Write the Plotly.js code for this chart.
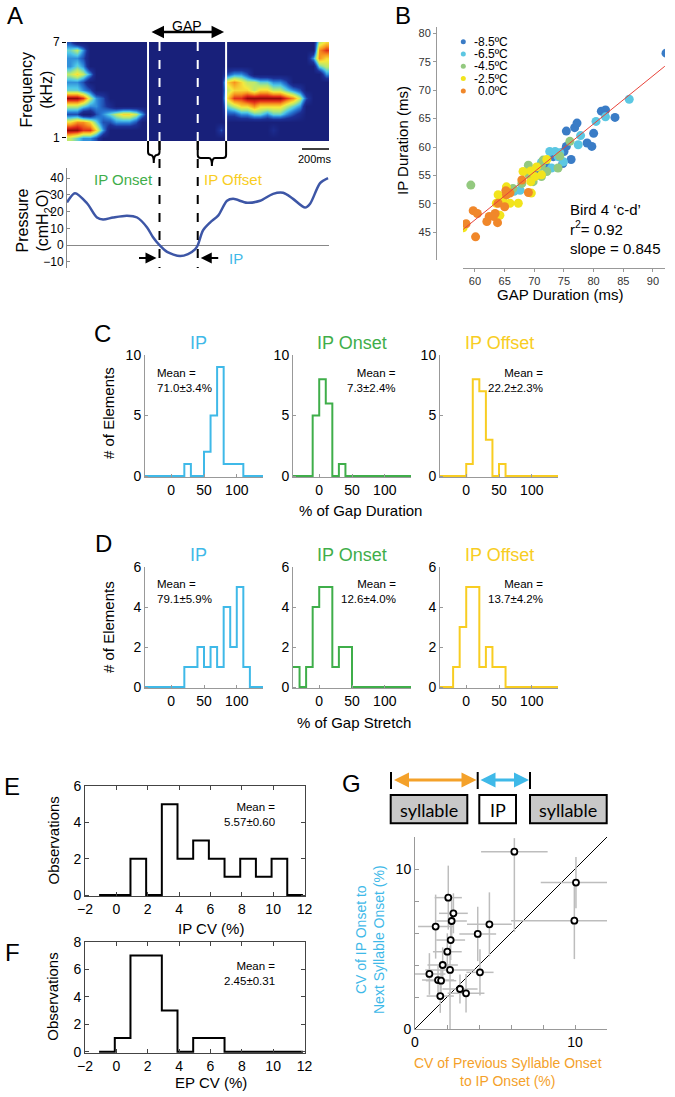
<!DOCTYPE html>
<html>
<head>
<meta charset="utf-8">
<script src="https://cdn.plot.ly/plotly-3.0.1.min.js"></script>
<style>
html, body { margin: 0; padding: 0; background: #fff; }
#fig { width: 675px; height: 1097px; }
</style>
</head>
<body>
<div id="fig"></div>
<script>
var W = 675, H = 1097;
var FONT = '"Liberation Sans", Arial, Helvetica, sans-serif';
var CYAN = '#3fb9e8', GREEN = '#3fae4a', YELLOW = '#f8cd22', ORANGE = '#f4a12a';

// ---------- A: spectrogram (0.5 kHz rows, 40 time bins) and pressure ----------
var specFreq = [1.0, 1.5, 2.0, 2.5, 3.0, 3.5, 4.0, 4.5, 5.0, 5.5, 6.0, 6.5, 7.0];
var specRows = [
    '5433200000' + '0000000000' + '0000000000' + '0000000000',
    '9988630000' + '0000000000' + '0002000000' + '0100000000',
    '6776422333' + '2000000000' + '0000000000' + '0000000000',
    '2200234566' + '5300000000' + '0000223344' + '3443210000',
    '5543321000' + '0000000000' + '0000456676' + '6665430000',
    '9985320000' + '0000000000' + '0000688999' + '9998752000',
    '4432000000' + '0000000000' + '0000566656' + '6554320000',
    '3320000000' + '0000000000' + '0000676554' + '4332000000',
    '5653000000' + '0000000000' + '0000233200' + '0000000003',
    '3430000000' + '0000000000' + '0000000000' + '0000000045',
    '3320000000' + '0000000000' + '0000000000' + '0000000376',
    '4530000000' + '0000000000' + '0000000000' + '0000000078',
    '2000000000' + '0000000000' + '0000000000' + '0000000056'
];
var specSpanMs = 1940;
var pressT = [0, 59, 148, 222, 267, 341, 444, 519, 593, 637, 685, 741, 837, 896, 948, 968, 1007, 1059, 1119, 1185, 1230, 1333, 1430, 1526, 1600, 1674, 1763, 1800, 1874, 1933];
var pressV = [25.5, 31, 25, 16.5, 15.3, 16.5, 17.6, 16.5, 10.6, 4.7, 0, -4, -6.5, -5.3, -2.5, 0, 8.8, 13.5, 17.6, 26.5, 27.6, 25.3, 26.5, 30.6, 31.2, 27.6, 22.4, 24.7, 37, 40];
var gapStartMs = 600, ipStartMs = 685, ipEndMs = 968, gapEndMs = 1178;
var scaleBarMs = 200;

// ---------- B: IP vs GAP duration by temperature ----------
var tempLabels = ['-8.5ºC', '-6.5ºC', '-4.5ºC', '-2.5ºC', '0.0ºC'];
var tempColors = ['#3a7cc6', '#5cc7e2', '#93c97f', '#f2e41c', '#f0872a'];
var blueX = [92.2, 81.3, 82.0, 83.6, 76.8, 77.2, 75.4, 80.0, 78.9, 79.7, 75.4, 75.0, 76.2, 74.8, 73.2, 72.1, 70.4];
var blueY = [76.5, 66.3, 66.5, 65.2, 63.4, 64.2, 62.8, 62.4, 60.7, 60.1, 60.1, 59.2, 57.8, 57.1, 58.3, 56.5, 55.4];
var cyanX = [86.0, 80.4, 82.0, 77.8, 77.4, 72.6, 73.5, 74.3, 71.2, 72.9, 70.9, 67.6, 66.6, 74.0, 74.9];
var cyanY = [68.4, 64.5, 65.3, 62.0, 60.4, 59.2, 59.2, 59.0, 57.3, 56.3, 56.5, 52.4, 52.2, 58.3, 57.4];
var greenX = [59.3, 76.0, 74.3, 74.0, 69.0, 71.2, 67.9, 69.8, 71.2, 66.4, 69.1, 71.5, 72.1];
var greenY = [53.3, 61.0, 58.4, 56.3, 56.8, 56.8, 53.6, 53.9, 54.8, 52.7, 55.1, 57.7, 55.7];
var yellowX = [58.0, 72.1, 71.2, 69.4, 68.1, 70.1, 69.5, 69.4, 67.3, 63.9, 64.7, 65.9, 64.2, 65.3, 63.6, 70.4];
var yellowY = [45.8, 57.8, 55.1, 55.8, 55.7, 54.8, 51.9, 53.9, 50.1, 51.6, 50.7, 50.1, 48.0, 53.0, 50.1, 56.5];
var orangeX = [58.5, 59.7, 60.4, 60.1, 62.0, 62.4, 63.4, 63.8, 63.9, 65.2, 65.3, 65.9, 65.0, 67.9, 69.0, 63.1];
var orangeY = [46.5, 48.8, 48.3, 44.2, 46.9, 47.8, 48.3, 46.7, 50.1, 52.3, 51.6, 51.9, 49.5, 54.2, 52.0, 47.8];
var fitX = [58, 92];
var fitY = [45.5, 74.2];

// ---------- C, D: histograms, bins of 10 % from -40 to 140 ----------
var histEdges = [-40, -30, -20, -10, 0, 10, 20, 30, 40, 50, 60, 70, 80, 90, 100, 110, 120, 130, 140];
var durIP     = [0, 0, 0, 0, 0, 0, 1, 0, 0, 2, 5, 9, 1, 1, 1, 0, 0, 0];
var durOnset  = [0, 0, 0, 5, 8, 6, 0, 1, 0, 0, 0, 0, 0, 0, 0, 0, 0, 0];
var durOffset = [0, 0, 0, 0, 1, 8, 7, 3, 0, 1, 0, 0, 0, 0, 0, 0, 0, 0];
var strIP     = [0, 0, 0, 0, 0, 0, 1, 1, 2, 1, 2, 1, 4, 2, 5, 1, 0, 0];
var strOnset  = [1, 0, 1, 4, 5, 5, 1, 2, 2, 0, 0, 0, 0, 0, 0, 0, 0, 0];
var strOffset = [0, 0, 1, 3, 5, 5, 1, 2, 1, 1, 0, 0, 0, 0, 0, 0, 0, 0];
var histTitles = ['IP', 'IP Onset', 'IP Offset'];
var durMeans = ['71.0±3.4%', '7.3±2.4%', '22.2±2.3%'];
var strMeans = ['79.1±5.9%', '12.6±4.0%', '13.7±4.2%'];

// ---------- E, F: CV histograms ----------
var cvEdges = [-1.1, -0.1, 0.9, 1.9, 2.9, 3.9, 4.9, 5.9, 6.9, 7.9, 8.9, 9.9, 10.9, 11.9];
var ipCV = [0, 0, 2, 0, 5, 2, 3, 2, 1, 2, 1, 2, 0];
var epCV = [0, 1, 7, 7, 3, 0, 1, 1, 0, 0, 0, 0, 0];

// ---------- G: CV scatter with error bars ----------
var gX = [6.21, 10.06, 9.96, 4.65, 3.92, 4.06, 3.19, 2.81, 2.08, 2.40, 2.29, 1.29, 2.23, 2.02, 1.73, 2.19, 0.90, 1.44, 1.63, 1.58];
var gY = [11.08, 9.15, 6.77, 6.54, 5.94, 3.54, 2.23, 2.50, 8.21, 7.23, 6.75, 6.40, 5.56, 4.83, 4.00, 3.69, 3.44, 3.06, 3.02, 2.06];
var gXErr = [2.08, 2.2, 3.96, 1.4, 1.15, 0.85, 1.15, 1.1, 0.85, 0.9, 0.95, 1.1, 0.9, 0.9, 0.95, 1.55, 1.0, 1.0, 0.95, 0.85];
var gYErrUp = [0.85, 1.6, 2.4, 2.0, 1.7, 1.45, 1.2, 0.9, 2.0, 1.25, 1.3, 2.0, 1.25, 1.15, 1.1, 1.5, 1.3, 0.9, 0.9, 1.05];
var gYErrDown = [5.0, 1.6, 2.4, 2.0, 1.7, 1.45, 1.2, 0.9, 2.0, 1.25, 1.3, 2.0, 1.25, 1.15, 1.1, 3.7, 1.3, 0.9, 0.9, 1.05];

// ---------- helpers (pixel -> paper) ----------
function px(x) { return x / W; }
function py(y) { return 1 - y / H; }
function xd(a, b) { return [a / W, b / W]; }
function yd(top, bottom) { return [1 - bottom / H, 1 - top / H]; }
function tpx(t) { return 67 + t * (329 - 67) / specSpanMs; }

function note(x, y, text, o) {
    o = o || {};
    return {
        xref: 'paper', yref: 'paper', x: px(x), y: py(y), text: text, showarrow: false,
        xanchor: o.xa || 'center', yanchor: 'middle', align: o.align || 'center',
        textangle: o.rot || 0,
        font: { family: o.family || FONT, size: o.size || 12, color: o.color || '#000' }
    };
}
function arrow(xTip, y, dx, color, width, both) {
    return {
        xref: 'paper', yref: 'paper', x: px(xTip), y: py(y), ax: dx, ay: 0, text: '',
        showarrow: true, arrowhead: 2, arrowsize: 1, arrowwidth: width, arrowcolor: color,
        arrowside: both ? 'end+start' : 'end', standoff: 0, startstandoff: 0
    };
}
function seg(x0, y0, x1, y1, color, width, dash) {
    return { type: 'line', xref: 'paper', yref: 'paper', x0: px(x0), y0: py(y0), x1: px(x1), y1: py(y1),
             line: { color: color, width: width, dash: dash || 'solid' } };
}
function brace(x0, x1, yTop, yBot, yTip) {
    var r = 3, xm = (x0 + x1) / 2;
    var P = function (x, y) { return px(x) + ',' + py(y); };
    var d = 'M' + P(x0, yTop) + ' L' + P(x0, yBot - r) + ' Q' + P(x0, yBot) + ' ' + P(x0 + r, yBot) +
            ' L' + P(xm - r, yBot) + ' Q' + P(xm, yBot) + ' ' + P(xm, yTip) +
            ' Q' + P(xm, yBot) + ' ' + P(xm + r, yBot) + ' L' + P(x1 - r, yBot) +
            ' Q' + P(x1, yBot) + ' ' + P(x1, yBot - r) + ' L' + P(x1, yTop);
    return { type: 'path', xref: 'paper', yref: 'paper', path: d, line: { color: '#000', width: 2 } };
}
function ax(o) {
    return Object.assign({ showgrid: false, zeroline: false, showline: false, ticks: '', showticklabels: false, fixedrange: true }, o);
}
function stepTrace(edges, counts, color, xa, ya) {
    return { type: 'scatter', mode: 'lines', x: edges, y: counts.concat([counts[counts.length - 1]]),
             line: { shape: 'hv', color: color, width: 2 }, xaxis: xa, yaxis: ya, hoverinfo: 'skip' };
}

var data = [];
var layout = {
    width: W, height: H, margin: { l: 0, r: 0, t: 0, b: 0 },
    paper_bgcolor: '#fff', plot_bgcolor: '#fff', showlegend: false,
    font: { family: FONT, size: 12, color: '#000' },
    shapes: [], annotations: []
};
var S = layout.shapes, A = layout.annotations;

// ---------- panel A ----------
var NAVY = 'rgb(24,32,122)';
var specZ = specRows.map(function (r) { return r.split('').map(Number); });
var specT = specZ[0].map(function (_, i) { return (i + 0.5) * specSpanMs / specZ[0].length; });
data.push({
    type: 'heatmap', x: specT, y: specFreq, z: specZ, zmin: 0, zmax: 9, zsmooth: 'best', showscale: false,
    colorscale: [[0, NAVY], [0.16, 'rgb(28,48,150)'], [0.3, 'rgb(38,120,212)'], [0.41, 'rgb(78,200,232)'],
                 [0.53, 'rgb(175,232,120)'], [0.64, 'rgb(245,232,60)'], [0.77, 'rgb(248,150,30)'], [0.9, 'rgb(222,40,25)'], [1, 'rgb(150,10,10)']],
    xaxis: 'x', yaxis: 'y', hoverinfo: 'skip'
});
layout.xaxis = ax({ domain: xd(67, 329), range: [0, specSpanMs], anchor: 'y' });
layout.yaxis = ax({ domain: yd(42, 141), range: [0.81, 7], anchor: 'x', tickvals: [1, 7], showticklabels: true,
                    ticks: 'outside', ticklen: 4, tickcolor: '#000', tickfont: { size: 12 } });
S.push({ type: 'rect', xref: 'x', yref: 'y', x0: 0, x1: specSpanMs, y0: 0.81, y1: 7, layer: 'below',
         fillcolor: NAVY, line: { width: 0 } });

data.push({ type: 'scatter', mode: 'lines', x: pressT, y: pressV, line: { color: '#3d56a6', width: 2.5, shape: 'spline', smoothing: 0.8 },
            xaxis: 'x2', yaxis: 'y2', hoverinfo: 'skip' });
layout.xaxis2 = ax({ domain: xd(67, 329), range: [0, specSpanMs], anchor: 'y2' });
layout.yaxis2 = ax({ domain: yd(168, 268), range: [-13.6, 46], anchor: 'x2', showline: true, linecolor: '#888', linewidth: 1,
                     tickvals: [-10, 0, 10, 20, 30, 40], showticklabels: true, ticks: 'inside', ticklen: 3, tickcolor: '#888',
                     zeroline: true, zerolinecolor: '#888', zerolinewidth: 1, tickfont: { size: 12 } });

[gapStartMs, gapEndMs].forEach(function (t) { S.push(seg(tpx(t), 42, tpx(t), 141, '#fff', 2)); });
[ipStartMs, ipEndMs].forEach(function (t) {
    S.push(seg(tpx(t), 42, tpx(t), 141, '#fff', 2, 'dash'));
    S.push(seg(tpx(t), 141, tpx(t), 268, '#000', 2, 'dash'));
});
S.push(brace(tpx(gapStartMs), tpx(ipStartMs), 141, 155, 163));
S.push(brace(tpx(ipEndMs), tpx(gapEndMs), 141, 158, 166));
S.push(seg(tpx(specSpanMs - scaleBarMs), 149, tpx(specSpanMs), 149, '#000', 1.5));
A.push(note((tpx(specSpanMs - scaleBarMs) + tpx(specSpanMs)) / 2, 159, scaleBarMs + 'ms', { size: 11 }));
A.push(arrow(tpx(gapEndMs) - 2, 32, -(tpx(gapEndMs) - tpx(gapStartMs) - 4), '#000', 2.5, true));
A.push(note((tpx(gapStartMs) + tpx(gapEndMs)) / 2, 26, 'GAP', { size: 14 }));
A.push(note(155, 179, 'IP Onset', { xa: 'right', size: 15, color: GREEN }));
A.push(note(201.5, 179, 'IP Offset', { xa: 'left', size: 15, color: YELLOW }));
A.push(arrow(tpx(ipStartMs) - 3, 258, -19, '#000', 2.2));
A.push(arrow(tpx(ipEndMs) + 3, 258, 19, '#000', 2.2));
A.push(note(227, 258, 'IP', { xa: 'left', size: 15, color: CYAN }));
A.push(note(36.5, 90, 'Frequency<br>(kHz)', { rot: -90, size: 16 }));
A.push(note(33.5, 221, 'Pressure<br>(cmH<sub>2</sub>O)', { rot: -90, size: 16 }));

// ---------- panel B ----------
var bSets = [[blueX, blueY], [cyanX, cyanY], [greenX, greenY], [yellowX, yellowY], [orangeX, orangeY]];
bSets.forEach(function (s, i) {
    data.push({ type: 'scatter', mode: 'markers', x: s[0], y: s[1], name: tempLabels[i],
                marker: { color: tempColors[i], size: 9 }, xaxis: 'x3', yaxis: 'y3', hoverinfo: 'skip' });
});
data.push({ type: 'scatter', mode: 'lines', x: fitX, y: fitY, line: { color: '#e8443a', width: 1 }, xaxis: 'x3', yaxis: 'y3', hoverinfo: 'skip' });
layout.xaxis3 = ax({ domain: xd(463, 665), range: [57.98, 92.03], anchor: 'free', position: py(268), showline: true, linecolor: '#999',
                     tickvals: [60, 65, 70, 75, 80, 85, 90], showticklabels: true, ticks: 'outside', ticklen: 3, tickcolor: '#999',
                     tickfont: { size: 11, color: '#333' } });
layout.yaxis3 = ax({ domain: yd(27, 260), range: [40.13, 81.1], anchor: 'free', position: px(436), showline: true, linecolor: '#999',
                     tickvals: [45, 50, 55, 60, 65, 70, 75, 80], showticklabels: true, ticks: 'outside', ticklen: 3, tickcolor: '#999',
                     tickfont: { size: 11, color: '#333' } });
tempLabels.forEach(function (lab, i) {
    var y = 41.7 + i * 12.3;
    S.push({ type: 'circle', xref: 'paper', yref: 'paper', x0: px(460.8), x1: px(465.8), y0: py(y + 2.5), y1: py(y - 2.5),
             fillcolor: tempColors[i], line: { width: 0 } });
    A.push(note(lab.charAt(0) === '-' ? 471.7 : 475.7, y, lab, { xa: 'left', size: 12 }));
});
A.push(note(568, 229, 'Bird 4 ‘c-d’<br>r<sup>2</sup>= 0.92<br>slope = 0.845', { xa: 'left', align: 'left', size: 15 }));
A.push(note(403, 141, 'IP Duration (ms)', { rot: -90, size: 15 }));
A.push(note(560, 295, 'GAP Duration (ms)', { size: 15 }));

// ---------- panels C, D ----------
var colLeft = [145, 293, 440];
var colColor = [CYAN, GREEN, YELLOW];
var durSets = [durIP, durOnset, durOffset];
var strSets = [strIP, strOnset, strOffset];
function histRow(sets, means, firstAxis, top, bottom, ymax, yticks, titleY, meanY) {
    var unit = (bottom - top) / ymax;
    for (var k = 0; k < 3; k++) {
        var n = firstAxis + k;
        data.push(stepTrace(histEdges, sets[k], colColor[k], 'x' + n, 'y' + n));
        layout['xaxis' + n] = ax({ domain: xd(colLeft[k], colLeft[k] + 118), range: [-40, 140], anchor: 'y' + n,
            showline: true, linecolor: '#999', tickvals: [0, 50, 100], showticklabels: true, ticks: 'inside', ticklen: 3,
            tickcolor: '#999', tickfont: { size: 14 } });
        layout['yaxis' + n] = ax({ domain: yd(top, bottom + 1.2), range: [-1.2 / unit, ymax], anchor: 'x' + n,
            showline: true, linecolor: '#999', tickvals: yticks, showticklabels: true, ticks: 'inside', ticklen: 3,
            tickcolor: '#999', tickfont: { size: 14 } });
        A.push(note(colLeft[k] + 59 - (k === 0 ? 6 : 0), titleY, histTitles[k], { size: 18, color: colColor[k] }));
        if (k === 0) {
            A.push(note(colLeft[k] + 10, meanY, 'Mean =<br>' + means[k], { xa: 'left', align: 'left', size: 11.5 }));
        } else {
            A.push(note(colLeft[k] + 105, meanY, 'Mean =<br>' + means[k], { xa: 'right', align: 'right', size: 11.5 }));
        }
    }
}
histRow(durSets, durMeans, 4, 355, 476, 10, [0, 5, 10], 343, 380);
histRow(strSets, strMeans, 7, 567, 687, 6, [0, 2, 4, 6], 555, 591);
A.push(note(108, 413, '# of Elements', { rot: -90, size: 15 }));
A.push(note(108, 627, '# of Elements', { rot: -90, size: 15 }));
A.push(note(360, 511, '% of Gap Duration', { size: 15 }));
A.push(note(354, 722, '% of Gap Stretch', { size: 15 }));

// ---------- panels E, F ----------
function cvPanel(n, counts, top, bottom, ymax, yticks, title, titleY, mean, meanY) {
    var unit = (bottom - top) / ymax;
    data.push(stepTrace(cvEdges, counts, '#000', 'x' + n, 'y' + n));
    layout['xaxis' + n] = ax({ domain: xd(85, 304.5), range: [-2, 12], anchor: 'y' + n, showline: true, mirror: 'ticks',
        linecolor: '#444', tickvals: [-2, 0, 2, 4, 6, 8, 10, 12], showticklabels: true, ticks: 'inside', ticklen: 4,
        tickcolor: '#444', tickfont: { size: 14 } });
    layout['yaxis' + n] = ax({ domain: yd(top, bottom + 1.2), range: [-1.2 / unit, ymax], anchor: 'x' + n, showline: true, mirror: 'ticks',
        linecolor: '#444', tickvals: yticks, showticklabels: true, ticks: 'inside', ticklen: 4, tickcolor: '#444',
        tickfont: { size: 14 } });
    A.push(note(53, (top + bottom) / 2, 'Observations', { rot: -90, size: 15 }));
    A.push(note(211, titleY, title, { size: 15 }));
    A.push(note(277, meanY, 'Mean =<br>' + mean, { xa: 'right', align: 'right', size: 11.5 }));
}
cvPanel(10, ipCV, 786, 895, 6, [0, 2, 4, 6], 'IP CV (%)', 928, '5.57±0.60', 814);
cvPanel(11, epCV, 941.7, 1051.7, 8, [0, 2, 4, 6, 8], 'EP CV (%)', 1082, '2.45±0.31', 973);

// ---------- panel G ----------
data.push({ type: 'scatter', mode: 'lines', x: [0, 12], y: [0, 12], line: { color: '#000', width: 1 }, xaxis: 'x12', yaxis: 'y12', hoverinfo: 'skip' });
data.push({ type: 'scatter', mode: 'markers', x: gX, y: gY, xaxis: 'x12', yaxis: 'y12', hoverinfo: 'skip',
    marker: { symbol: 'circle', size: 6, color: '#fff', line: { color: '#000', width: 1.8 } },
    error_x: { type: 'data', array: gXErr, color: '#bdbdbd', thickness: 1.5, width: 0 },
    error_y: { type: 'data', symmetric: false, array: gYErrUp, arrayminus: gYErrDown, color: '#bdbdbd', thickness: 1.5, width: 0 } });
layout.xaxis12 = ax({ domain: xd(415, 607), range: [0, 12], anchor: 'y12', showline: true, linecolor: '#999',
    tickvals: [0, 2, 4, 6, 8, 10], ticktext: ['0', '', '', '', '', '10'], showticklabels: true, ticks: 'inside', ticklen: 4,
    tickcolor: '#999', tickfont: { size: 14 } });
layout.yaxis12 = ax({ domain: yd(837, 1029), range: [0, 12], anchor: 'x12', showline: true, linecolor: '#999',
    tickvals: [0, 2, 4, 6, 8, 10], ticktext: ['0', '', '', '', '', '10'], showticklabels: true, ticks: 'inside', ticklen: 4,
    tickcolor: '#999', tickfont: { size: 14 } });
A.push(note(370, 940, 'CV of IP Onset to<br>Next Syllable Onset (%)', { rot: -90, size: 14, color: CYAN }));
A.push(note(508, 1072, 'CV of Previous Syllable Onset<br>to IP Onset (%)', { size: 14, color: ORANGE }));

// interval diagram
[391, 477.7, 530].forEach(function (x) { S.push(seg(x, 772, x, 789, '#000', 2)); });
A.push(arrow(476.5, 780, -84, ORANGE, 3, true));
A.push(arrow(529, 780, -50, CYAN, 3, true));
var boxes = [[390.7, 467.3, '#c8c8c8', 'syllable'], [479.3, 516, '#fff', 'IP'], [530, 606.7, '#c8c8c8', 'syllable']];
boxes.forEach(function (b) {
    S.push({ type: 'rect', xref: 'paper', yref: 'paper', x0: px(b[0]), x1: px(b[1]), y0: py(823.3), y1: py(795),
             fillcolor: b[2], line: { color: '#000', width: 2 } });
    A.push(note((b[0] + b[1]) / 2, 810, b[3], { size: 18, family: 'Lato, "Open Sans", sans-serif' }));
});

// panel letters
[['A', 15, 15], ['B', 403, 15], ['C', 102, 333], ['D', 103, 543], ['E', 12, 786], ['F', 12, 952], ['G', 352, 783]].forEach(function (l) {
    A.push(note(l[1], l[2], l[0], { size: 24 }));
});

Plotly.newPlot('fig', data, layout, { staticPlot: true });
</script>
</body>
</html>
